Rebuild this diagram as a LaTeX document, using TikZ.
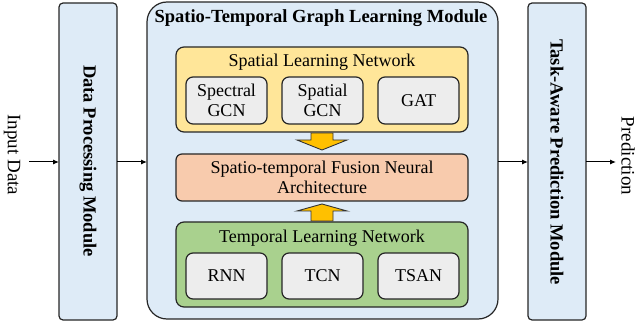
\documentclass[tikz,border=0pt]{standalone}
\usepackage{fontspec}
\setmainfont{Liberation Serif}
\usetikzlibrary{arrows.meta}
\definecolor{lblue}{HTML}{DEEBF7}
\definecolor{lyellow}{HTML}{FFE699}
\definecolor{lorange}{HTML}{F8CBAD}
\definecolor{lgreen}{HTML}{A9D18E}
\definecolor{lgray}{HTML}{EDEDED}
\definecolor{aorange}{HTML}{FFC000}
\tikzset{
  box/.style={draw=black!85, line width=1.2pt},
  inner/.style={box, fill=lgray, rounded corners=7pt},
  conn/.style={-{Latex[length=6pt,width=5pt]}, line width=1pt},
  fat/.style={draw=black!80, fill=aorange, line width=0.9pt, line join=miter},
  txt/.style={font=\fontsize{18}{19.5}\selectfont, align=center},
  vtxt/.style={rotate=-90, font=\bfseries\fontsize{18.5}{20}\selectfont},
}
\begin{document}
\begin{tikzpicture}[x=1pt,y=-1pt]
\useasboundingbox (0,0) rectangle (637,331);
% side modules
\draw[box, fill=lblue, rounded corners=4pt] (59,3) rectangle (117,320);
\node[vtxt] (dp) at (88,161) {Data Processing Module};
\draw[box, fill=lblue, rounded corners=4pt] (528,3) rectangle (586,320);
\node[vtxt] (tp) at (557,162) {Task-Aware Prediction Module};
% main module
\draw[box, fill=lblue, rounded corners=20pt] (147,2) rectangle (498,319);
\node[font=\bfseries\fontsize{18.5}{20}\selectfont] (title) at (321,18) {Spatio-Temporal Graph Learning Module};
% spatial
\draw[box, fill=lyellow, rounded corners=8pt] (176,47) rectangle (468,132);
\node[txt] (sln) at (322,62) {Spatial Learning Network};
\draw[inner] (186,77) rectangle (267,124);
\node[txt] (sgcn) at (226.5,100.5) {Spectral\\GCN};
\draw[inner] (282,77) rectangle (363,124);
\node[txt] (spgcn) at (322.5,100.5) {Spatial\\GCN};
\draw[inner] (378,77) rectangle (459,124);
\node[txt] (gat) at (418.5,100.5) {GAT};
% fusion
\draw[box, fill=lorange, rounded corners=6pt] (176,154) rectangle (468,201);
\node[txt] (fus) at (322,177.5) {Spatio-temporal Fusion Neural\\Architecture};
% temporal
\draw[box, fill=lgreen, rounded corners=8pt] (176,222) rectangle (468,307);
\node[txt] (tln) at (322,238) {Temporal Learning Network};
\draw[inner] (186,253) rectangle (267,299);
\node[txt] (rnn) at (226.5,276) {RNN};
\draw[inner] (282,253) rectangle (363,299);
\node[txt] (tcn) at (322.5,276) {TCN};
\draw[inner] (378,253) rectangle (459,299);
\node[txt] (tsan) at (418.5,276) {TSAN};
% fat arrows
\draw[fat] (311,133) -- (333,133) -- (333,140) -- (347,140) -- (322,150) -- (297,140) -- (311,140) -- cycle;
\draw[fat] (311,221) -- (333,221) -- (333,211) -- (347,211) -- (322,204) -- (297,211) -- (311,211) -- cycle;
% io
\node[rotate=-90, font=\fontsize{19}{20}\selectfont] (in) at (12,155) {Input Data};
\node[rotate=-90, font=\fontsize{19}{20}\selectfont] (out) at (628,156) {Prediction};
\coordinate (a0) at (29,162);
\coordinate (a1) at (59,162);
\coordinate (b0) at (117,162);
\coordinate (b1) at (147,162);
\coordinate (c0) at (498,162);
\coordinate (c1) at (528,162);
\coordinate (d0) at (586,162);
\coordinate (d1) at (616,162);
\draw[conn] (a0) -- (a1);
\draw[conn] (b0) -- (b1);
\draw[conn] (c0) -- (c1);
\draw[conn] (d0) -- (d1);
\end{tikzpicture}
\end{document}
